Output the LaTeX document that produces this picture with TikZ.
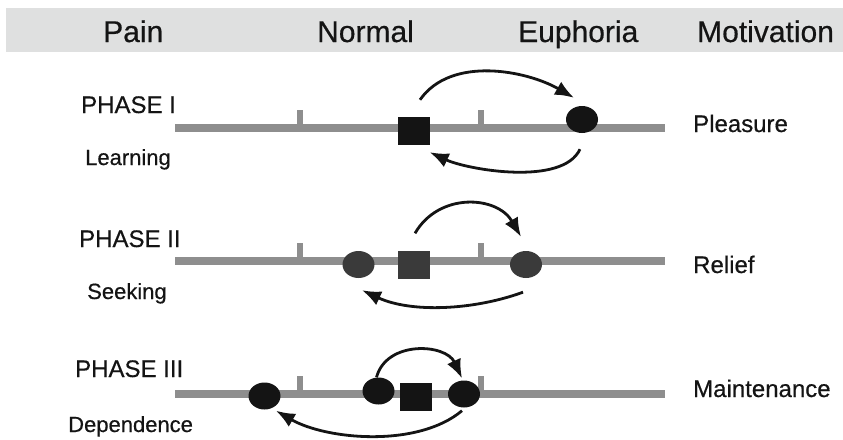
\documentclass[tikz,border=0pt]{standalone}
\usepackage{fontspec}
\setmainfont{Liberation Sans}
\newfontface\medface{Liberation Sans}[FakeBold=0.5]
\usetikzlibrary{shapes}
\usetikzlibrary{arrows,arrows.meta}

\definecolor{bandgray}{HTML}{DFE0E0}
\definecolor{bargray}{HTML}{8E8E8E}
\definecolor{inkdark}{HTML}{141414}
\definecolor{inkmid}{HTML}{3A3A3A}

\begin{document}
\begin{tikzpicture}[x=1pt,y=-1pt]
				\tikzstyle{bar}=[draw=bargray,line width=7.5pt]
				\tikzstyle{notch}=[draw=bargray,line width=6pt]
				\tikzstyle{head}=[font=\medface\fontsize{30}{36}\selectfont,inner sep=0pt,anchor=base west,text=inkdark]
				\tikzstyle{phase}=[font=\medface\fontsize{24}{28}\selectfont,inner sep=0pt,anchor=base west,text=inkdark]
				\tikzstyle{stage}=[font=\medface\fontsize{22}{26}\selectfont,inner sep=0pt,anchor=base west,text=inkdark]
				\tikzstyle{sq}=[rectangle,minimum width=32pt,minimum height=28pt,inner sep=0pt]
				\tikzstyle{oval}=[ellipse,minimum width=32pt,minimum height=27pt,inner sep=0pt]
				\tikzstyle{flow}=[-{Latex[length=19pt,width=15pt]},line width=2.8pt,draw=inkdark]
				\useasboundingbox (0,0) rectangle (843,439);

				% header band
				\fill[bandgray] (6,8) rectangle (843,52);
				\node[head] (pain) at (103,42) {Pain};
				\node[head] (normal) at (317,42) {Normal};
				\node[head] (euph) at (518,42) {Euphoria};
				\node[head] (motiv) at (697,42) {Motivation};

				% scales
				\foreach \y in {128,261,394}{
					\draw[bar] (175,\y) -- (665,\y);
					\draw[notch] (300,\y) -- (300,\y-18);
					\draw[notch] (481,\y) -- (481,\y-18);
				}

				% phase I
				\node[sq,fill=inkdark] (sq1) at (413.5,131) {};
				\node[oval,fill=inkdark] (ov1) at (582,119.5) {};
				\draw[flow] ([shift={(6.5pt,17pt)}]sq1.north) to[out=55,in=150,looseness=0.9] ([shift={(-8pt,8pt)}]ov1.north);
				\draw[flow] ([shift={(-2pt,-16pt)}]ov1.south) to[out=-115,in=-25,looseness=0.7] ([shift={(0pt,-7pt)}]sq1.south east);

				% phase II
				\node[oval,fill=inkmid] (ovA2) at (358.5,264.5) {};
				\node[sq,fill=inkmid] (sq2) at (414,264.5) {};
				\node[oval,fill=inkmid] (ovB2) at (526,264.5) {};
				\draw[flow] ([shift={(1pt,17pt)}]sq2.north) to[out=60,in=120,looseness=1.15] ([shift={(-5pt,14pt)}]ovB2.north);
				\draw[flow] ([shift={(-3pt,-14pt)}]ovB2.south) to[out=-160,in=-25,looseness=0.85] ([shift={(3.5pt,-12pt)}]ovA2.south);

				% phase III
				\node[oval,fill=inkdark] (ovA3) at (264.5,396) {};
				\node[oval,fill=inkdark] (ovB3) at (378.5,391) {};
				\node[sq,fill=inkdark] (sq3) at (416,397) {};
				\node[oval,fill=inkdark] (ovC3) at (464,394) {};
				\draw[flow] ([xshift=-2pt]ovB3.north) to[out=75,in=115,looseness=1.15] ([shift={(-2pt,2pt)}]ovC3.north);
				\draw[flow] ([shift={(-2pt,-3pt)}]ovC3.south) to[out=-140,in=-30,looseness=0.8] ([yshift=-5pt]ovA3.south east);

				% labels
				\node[phase] (ph1) at (81,113) {PHASE I};
				\node[stage] (st1) at (85,165) {Learning};
				\node[phase] (ph2) at (79,247) {PHASE II};
				\node[stage] (st2) at (87,299) {Seeking};
				\node[phase] (ph3) at (75,377) {PHASE III};
				\node[stage] (st3) at (68,432) {Dependence};
				\node[phase] (m1) at (693,132) {Pleasure};
				\node[phase] (m2) at (693,273) {Relief};
				\node[phase] (m3) at (693,397) {Maintenance};
\end{tikzpicture}
\end{document}
